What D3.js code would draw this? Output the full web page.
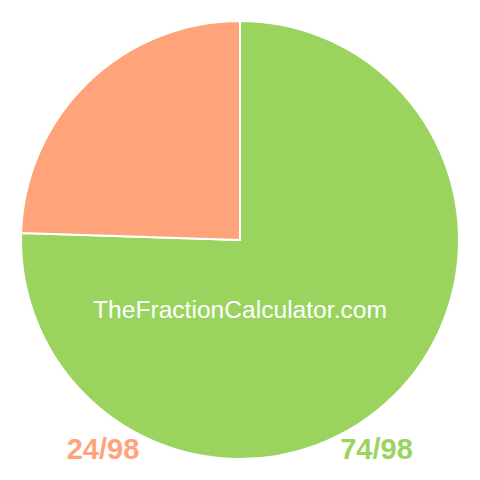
<!DOCTYPE html>
<html>
<head>
<meta charset="utf-8">
<script src="https://cdn.jsdelivr.net/npm/d3@7"></script>
<style>
  html, body { margin: 0; padding: 0; background: #fff; }
</style>
</head>
<body>
<div id="chart"></div>
<script>
// fraction parts, drawn clockwise from 12 o'clock
const labels = ["74/98", "24/98"];
const values = [74, 24];
const colors = ["#9ad45f", "#ffa47a"];
const watermark = "TheFractionCalculator.com";

const width = 480;
const height = 480;
const radius = 219;

const svg = d3.select("#chart").append("svg")
    .attr("width", width)
    .attr("height", height)
    .attr("viewBox", [0, 0, width, height]);

const pie = d3.pie().sort(null).value(d => d);
const arc = d3.arc().innerRadius(0).outerRadius(radius);

const g = svg.append("g").attr("transform", `translate(240,240)`);

g.selectAll("path")
  .data(pie(values))
  .join("path")
    .attr("d", arc)
    .attr("fill", (d, i) => colors[i])
    .attr("stroke", "#fff")
    .attr("stroke-width", 2)
    .attr("stroke-linejoin", "round");

svg.append("text")
    .attr("x", 240)
    .attr("y", 318)
    .attr("text-anchor", "middle")
    .attr("fill", "#fff")
    .style("font", "24.6px 'Liberation Sans', Arial, sans-serif")
    .text(watermark);

// labels along the bottom: smaller part left, larger part right
const labelX = d3.scalePoint().domain([labels[1], labels[0]]).range([103, 376.5]);

svg.append("g")
  .selectAll("text")
  .data(labels)
  .join("text")
    .attr("x", d => labelX(d))
    .attr("y", 459)
    .attr("text-anchor", "middle")
    .attr("fill", (d, i) => colors[i])
    .style("font", "bold 29px 'Liberation Sans', Arial, sans-serif")
    .text(d => d);
</script>
</body>
</html>
